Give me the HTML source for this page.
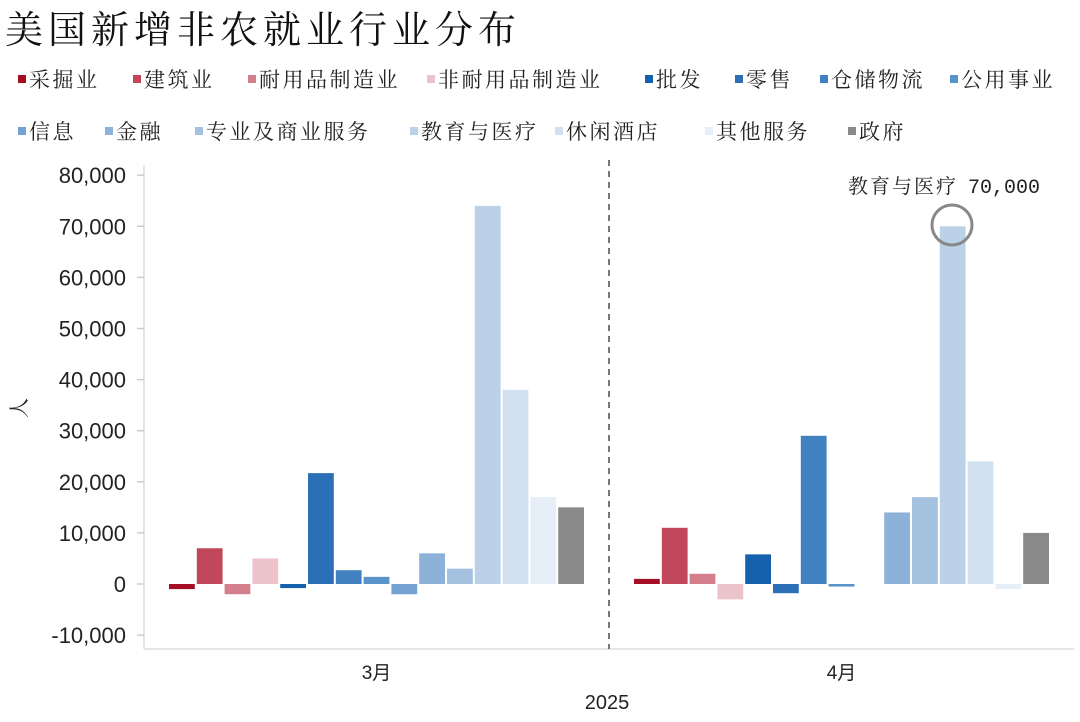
<!DOCTYPE html>
<html><head><meta charset="utf-8"><style>
body{margin:0;background:#fff;width:1080px;height:717px;overflow:hidden}
svg text{font-family:"Liberation Sans","Noto Sans CJK SC",sans-serif}
.cn{font-family:"Liberation Serif","Noto Serif CJK SC",serif}
</style></head><body>
<svg id="chart" width="1080" height="717" xmlns="http://www.w3.org/2000/svg">
<text class="cn" x="5" y="43" font-size="38" letter-spacing="5" fill="#111">美国新增非农就业行业分布</text>
<g id="legend"></g>
<g id="axes"></g>
<g id="bars"></g>
<text class="cn" transform="translate(26,408) rotate(-90)" text-anchor="middle" font-size="20" fill="#222">人</text>
<text x="607" y="709" text-anchor="middle" font-size="20" fill="#222">2025</text>
<text x="848" y="193" font-size="20" fill="#222"><tspan class="cn" letter-spacing="2">教育与医疗</tspan><tspan font-family="Liberation Mono" dx="10">70,000</tspan></text>
<circle cx="952" cy="225" r="20" fill="none" stroke="#888" stroke-width="3"/>
</svg>
<script>
const series=["采掘业","建筑业","耐用品制造业","非耐用品制造业","批发","零售","仓储物流","公用事业","信息","金融","专业及商业服务","教育与医疗","休闲酒店","其他服务","政府"];
const colors=["#a50f24","#c0485a","#d4808c","#ecc3ca","#1561ad","#2b70b6","#4181bf","#5a93c9","#74a3d3","#8db1d8","#a4c1e0","#bad1e7","#d1e1f0","#e6eef7","#8a8a8a"];
const categories=["3月","4月"];
const mar=[-1000,7000,-2000,5000,-800,21700,2700,1400,-2000,6000,3000,74000,38000,17000,15000];
const apr=[1000,11000,2000,-3000,5800,-1800,29000,-500,0,14000,17000,70000,24000,-1000,10000];
const values=[mar,apr];
const ticks=[-10000,0,10000,20000,30000,40000,50000,60000,70000,80000];
const NS="http://www.w3.org/2000/svg";
function mk(t,a,p){const e=document.createElementNS(NS,t);for(const k in a)e.setAttribute(k,a[k]);p.appendChild(e);return e;}
const X0=144,X1=1074,Y0=584,PPU=51.1/10000;
const y=v=>Y0-v*PPU;
const cw=(X1-X0)/categories.length;
const bw=27.8;
const ax=document.getElementById('axes');
let l=mk('line',{x1:X0,y1:165,x2:X0,y2:649,stroke:'#ddd','stroke-width':1.5},ax);


l=mk('line',{x1:X0,y1:649,x2:X1,y2:649,stroke:'#ddd','stroke-width':1.5},ax);


ticks.forEach(t=>{
 const tk=mk('line',{x1:137,y1:y(t),x2:X0,y2:y(t),stroke:'#ccc','stroke-width':1.5},ax);
 
 
 const tx=mk('text',{x:126,y:y(t)+8,'text-anchor':'end','font-size':22,fill:'#222'},ax);
 tx.textContent=t.toLocaleString('en-US');
 
 
});
const dv=mk('line',{x1:X0+cw,y1:160,x2:X0+cw,y2:649,stroke:'#777','stroke-width':2,'stroke-dasharray':'6,5'},ax);


const bg=document.getElementById('bars');
categories.forEach((c,ci)=>{
 const cx=X0+cw*(ci+0.5);
 const t=mk('text',{x:cx,y:679,'text-anchor':'middle','font-size':19,fill:'#222'},ax);
 t.textContent=c;
 
 
 const start=cx-bw*series.length/2;
 values[ci].forEach((v,si)=>{
  if(v===0)return;
  const r=mk('rect',{x:start+si*bw+1,y:Math.min(y(v),Y0),width:bw-2,height:Math.abs(y(v)-Y0),fill:colors[si]},bg);
  
  
 });
});
const lg=document.getElementById('legend');
const lpos=[[18,87],[133,87],[248,87],[427,87],[645,87],[735,87],[820,87],[950,87],[18,139],[105,139],[195,139],[410,139],[555,139],[705,139],[848,139]];
series.forEach((s,i)=>{
 const [lx,ly]=lpos[i];
 const sq=mk('rect',{x:lx,y:ly-12,width:8,height:8,fill:colors[i]},lg);
 
 
 const tx=mk('text',{x:lx+11,y:ly,'font-size':21,'letter-spacing':2.5,fill:'#222',class:'cn'},lg);
 tx.textContent=s;
 
 
});
</script>
</body></html>
